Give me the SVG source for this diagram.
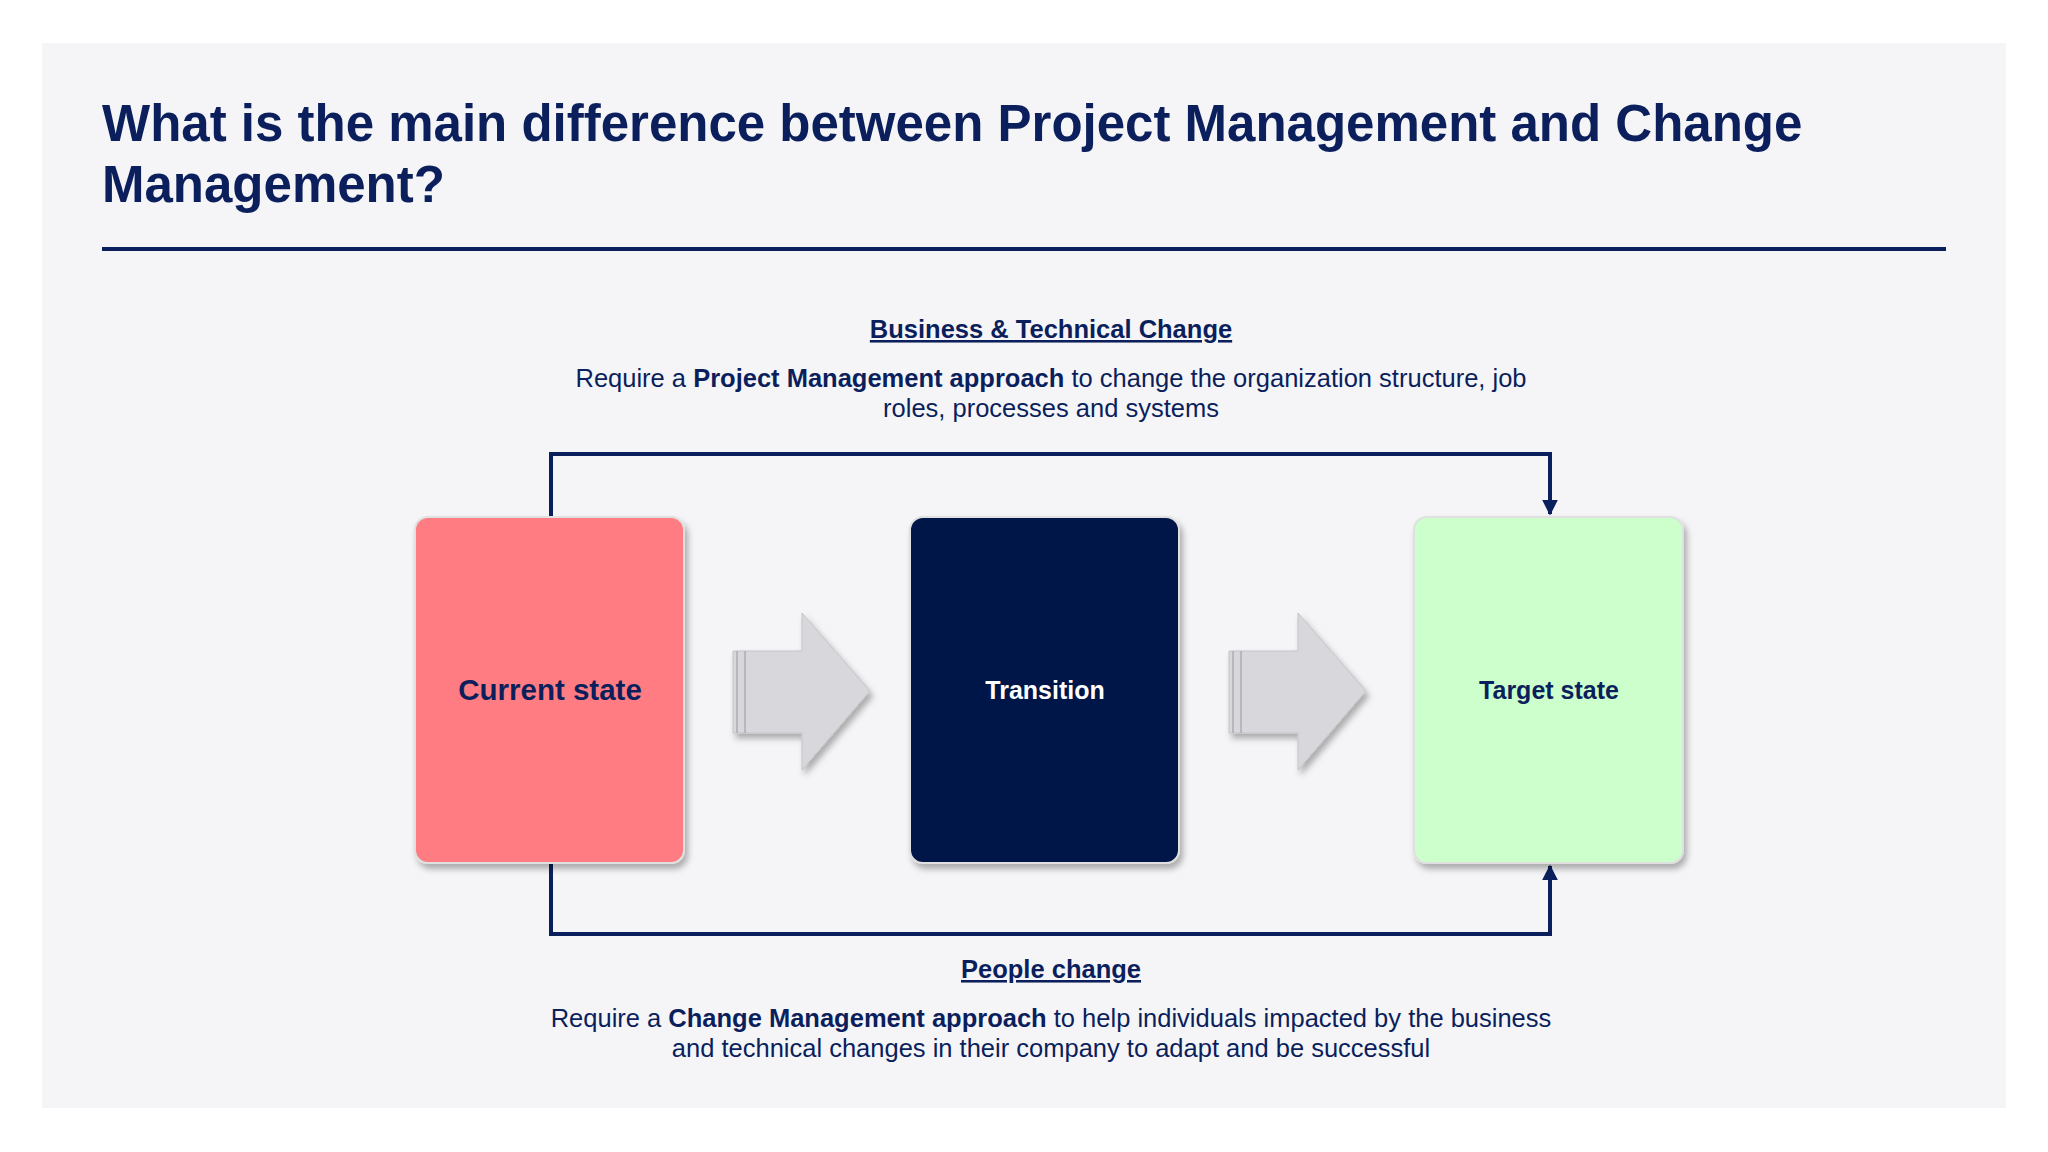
<svg xmlns="http://www.w3.org/2000/svg" width="2048" height="1152" viewBox="0 0 2048 1152">
<style>
text{font-family:"Liberation Sans",Arial,sans-serif;fill:#0b1f5c}
.h{font-weight:bold;font-size:25.5px;text-decoration:underline;text-anchor:middle}
.p{font-size:25.5px;text-anchor:middle}
.b{font-weight:bold}
.lbl{font-weight:bold;text-anchor:middle;dominant-baseline:middle}
.con{fill:none;stroke:#0b1f5c;stroke-width:4}
.arr{fill:#d8d7db;stroke:#c4c3c7;stroke-width:1}
</style>
<defs>
<filter id="sh" x="-20%" y="-20%" width="140%" height="140%"><feDropShadow dx="3" dy="5" stdDeviation="3" flood-color="#000" flood-opacity="0.3"/></filter>
<marker id="ah" viewBox="0 0 10 10" refX="9" refY="5" markerWidth="4" markerHeight="4" orient="auto"><path d="M0,0 L10,5 L0,10 z" fill="#0b1f5c"/></marker>
</defs>
<rect width="2048" height="1152" fill="#fff"/>
<rect x="42" y="43" width="1964" height="1065" fill="#f5f5f7"/>
<text x="102" y="141" style="font-size:51px;font-weight:bold">What is the main difference between Project Management and Change</text>
<text x="102" y="202" style="font-size:51px;font-weight:bold">Management?</text>
<rect x="102" y="247" width="1844" height="4" fill="#0b1f5c"/>
<text class="h" x="1051" y="338">Business &amp; Technical Change</text>
<text class="p" x="1051" y="387">Require a <tspan class="b">Project Management approach</tspan> to change the organization structure, job</text>
<text class="p" x="1051" y="417">roles, processes and systems</text>
<g id="connectors">
<path class="con" d="M551,517 V454 H1550 V514" marker-end="url(#ah)"/>
<path class="con" d="M551,863 V934 H1550 V866" marker-end="url(#ah)"/>
</g>
<g id="current"><rect x="415" y="517" width="269" height="346" rx="13" fill="#ff7b82" stroke="#e0e0e0" stroke-width="2" filter="url(#sh)"/><text class="lbl" x="550" y="692" style="font-size:29.5px">Current state</text></g>
<g id="arrow1" filter="url(#sh)"><path class="arr" d="M733,651 H802 V613 L870,691 L802,770 V733 H733 z"/><path d="M737,651 V733 M745,651 V733" stroke="#b8b7bb" stroke-width="2"/></g>
<g id="transition"><rect x="910" y="517" width="269" height="346" rx="13" fill="#021849" stroke="#e0e0e0" stroke-width="2" filter="url(#sh)"/><text class="lbl" x="1045" y="692" style="font-size:25px;fill:#fff">Transition</text></g>
<g id="arrow2" filter="url(#sh)"><path class="arr" d="M1229,651 H1298 V613 L1366,691 L1298,770 V733 H1229 z"/><path d="M1233,651 V733 M1241,651 V733" stroke="#b8b7bb" stroke-width="2"/></g>
<g id="target"><rect x="1414" y="517" width="269" height="346" rx="13" fill="#ccffcc" stroke="#e0e0e0" stroke-width="2" filter="url(#sh)"/><text class="lbl" x="1549" y="692" style="font-size:25px">Target state</text></g>
<text class="h" x="1051" y="978">People change</text>
<text class="p" x="1051" y="1027">Require a <tspan class="b">Change Management approach</tspan> to help individuals impacted by the business</text>
<text class="p" x="1051" y="1057">and technical changes in their company to adapt and be successful</text>
</svg>
